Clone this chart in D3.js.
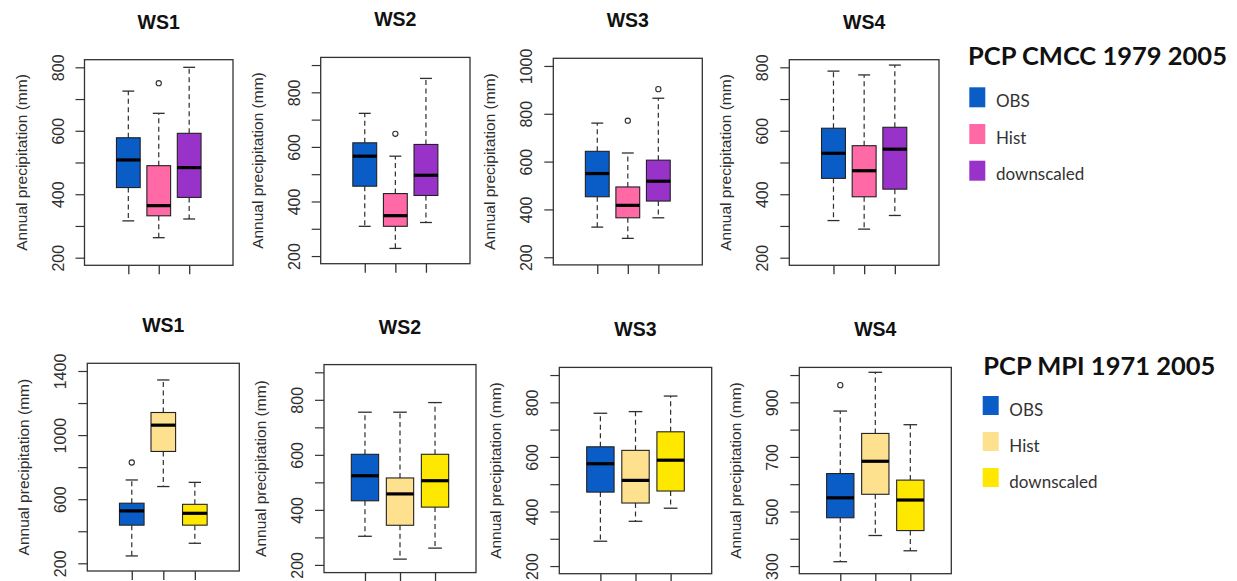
<!DOCTYPE html>
<html>
<head>
<meta charset="utf-8">
<script src="https://cdn.jsdelivr.net/npm/d3@7"></script>
<style>
  body { margin: 0; background: #fff; }
  svg { display: block; }
</style>
</head>
<body>
<svg id="chart" width="1237" height="581"></svg>
<script>
var stations = ["WS1", "WS2", "WS3", "WS4"];
var groups = ["OBS", "Hist", "downscaled"];

// CMCC 1979-2005, each entry: [lower whisker, Q1, median, Q3, upper whisker]
var cmccObs = [[316, 421, 508, 578, 725], [309, 456, 566, 615, 723], [326, 453, 550, 643, 761], [317, 450, 529, 608, 788]];
var cmccHist = [[263, 332, 364, 490, 655], [228, 309, 348, 429, 566], [279, 365, 417, 494, 636], [290, 392, 474, 553, 776]];
var cmccDown = [[322, 390, 484, 592, 800], [323, 422, 496, 609, 851], [365, 435, 518, 606, 865], [333, 416, 542, 611, 807]];
var cmccOutliers = [[[], [750], []], [[], [648], []], [[], [771], [903]], [[], [], []]];
var cmccLimits = [[200, 800], [200, 900], [200, 1000], [200, 800]];
var cmccTicks = [[200, 300, 400, 500, 600, 700, 800], [200, 300, 400, 500, 600, 700, 800, 900], [200, 400, 600, 800, 1000], [200, 300, 400, 500, 600, 700, 800]];
var cmccTickLabels = [[200, 400, 600, 800], [200, 400, 600, 800], [200, 400, 600, 800, 1000], [200, 400, 600, 800]];

// MPI 1971-2005
var mpiObs = [[246, 438, 527, 575, 720], [304, 433, 524, 602, 755], [291, 471, 575, 637, 760], [316, 477, 550, 639, 868]];
var mpiHist = [[679, 898, 1062, 1141, 1344], [221, 344, 458, 516, 755], [364, 431, 514, 624, 766], [412, 563, 684, 786, 1010]];
var mpiDown = [[325, 438, 512, 568, 705], [261, 410, 506, 602, 790], [412, 475, 588, 692, 823], [356, 430, 542, 615, 818]];
var mpiOutliers = [[[829], [], []], [[], [], []], [[], [], []], [[963], [], []]];
var mpiLimits = [[200, 1400], [200, 900], [200, 900], [300, 1000]];
var mpiTicks = [[200, 400, 600, 800, 1000, 1200, 1400], [200, 300, 400, 500, 600, 700, 800, 900], [200, 300, 400, 500, 600, 700, 800, 900], [300, 400, 500, 600, 700, 800, 900, 1000]];
var mpiTickLabels = [[200, 600, 1000, 1400], [200, 400, 600, 800], [200, 400, 600, 800], [300, 500, 700, 900]];

// colours
var cmccColors = ["#0a5cc6", "#ff69a5", "#9932c8"];
var mpiColors = ["#0a5cc6", "#fde18f", "#ffe800"];

// layout: plot frames [x, y, w, h] and the x padding of each frame
var topFrames = [[84.5, 59.7, 148.5, 205.6], [320.7, 57.4, 149.3, 206.3], [553.3, 58.3, 149, 206.6], [789.3, 59.7, 149.7, 205.6]];
var bottomFrames = [[87.3, 363.3, 152, 207.7], [324, 364.6, 152, 208], [559.3, 367.4, 152.4, 206.3], [799.3, 367.4, 152, 206.3]];
var topPad = [0.94, 0.94, 0.94, 0.94];
var bottomPad = [0.91, 0.67, 0.67, 0.67];

var svg = d3.select("#chart");
var plotFont = "'Liberation Sans', Arial, sans-serif";
var legendFont = "Lato, 'Open Sans', sans-serif";
var ink = "#2e2e2e";

function drawPanel(frame, pad, title, summaries, outliers, colors, limits, ticks, tickLabels) {
    var fx = frame[0], fy = frame[1], fw = frame[2], fh = frame[3];
    var span = limits[1] - limits[0];

    // R style 4% extension of the y range
    var y = d3.scaleLinear()
        .domain([limits[0] - 0.04 * span, limits[1] + 0.04 * span])
        .range([fy + fh, fy]);
    var x = d3.scaleLinear()
        .domain([0.5 - pad, 3.5 + pad])
        .range([fx, fx + fw]);

    var g = svg.append("g");
    var boxW = x(1.78) - x(1);
    var capW = boxW / 2;

    summaries.forEach(function (s, i) {
        var cx = x(i + 1);
        // whiskers
        g.append("line").attr("x1", cx).attr("x2", cx).attr("y1", y(s[3])).attr("y2", y(s[4]))
            .attr("stroke", ink).attr("stroke-width", 1.2).attr("stroke-dasharray", "5,3.5");
        g.append("line").attr("x1", cx).attr("x2", cx).attr("y1", y(s[1])).attr("y2", y(s[0]))
            .attr("stroke", ink).attr("stroke-width", 1.2).attr("stroke-dasharray", "5,3.5");
        // staples
        [s[0], s[4]].forEach(function (v) {
            g.append("line").attr("x1", cx - capW / 2).attr("x2", cx + capW / 2)
                .attr("y1", y(v)).attr("y2", y(v))
                .attr("stroke", ink).attr("stroke-width", 1.3);
        });
        // box
        g.append("rect")
            .attr("x", cx - boxW / 2).attr("width", boxW)
            .attr("y", y(s[3])).attr("height", y(s[1]) - y(s[3]))
            .attr("fill", colors[i]).attr("stroke", "#222").attr("stroke-width", 1.1);
        // median
        g.append("line").attr("x1", cx - boxW / 2).attr("x2", cx + boxW / 2)
            .attr("y1", y(s[2])).attr("y2", y(s[2]))
            .attr("stroke", "#000").attr("stroke-width", 3.2);
        // outliers
        outliers[i].forEach(function (v) {
            g.append("circle").attr("cx", cx).attr("cy", y(v)).attr("r", 2.6)
                .attr("fill", "none").attr("stroke", ink).attr("stroke-width", 1.1);
        });
    });

    // frame
    g.append("rect").attr("x", fx).attr("y", fy).attr("width", fw).attr("height", fh)
        .attr("fill", "none").attr("stroke", "#333").attr("stroke-width", 1.3);

    // y axis, labels rotated like R's las = 0
    var yAxis = d3.axisLeft(y)
        .tickValues(ticks)
        .tickSize(9)
        .tickFormat(function (d) { return tickLabels.indexOf(d) >= 0 ? d : ""; });
    var ya = g.append("g").attr("transform", "translate(" + fx + ",0)").call(yAxis);
    ya.select(".domain").remove();
    ya.selectAll(".tick line").attr("stroke", "#333").attr("stroke-width", 1.2);
    ya.selectAll(".tick text")
        .attr("transform", "rotate(-90)")
        .attr("x", 0).attr("y", -21).attr("dy", 0)
        .attr("text-anchor", "middle")
        .attr("fill", ink)
        .style("font-family", plotFont).style("font-size", "16px");

    // x axis: bare tick marks under each box
    var xAxis = d3.axisBottom(x).tickValues([1, 2, 3]).tickSize(9).tickFormat("");
    var xa = g.append("g").attr("transform", "translate(0," + (fy + fh) + ")").call(xAxis);
    xa.select(".domain").remove();
    xa.selectAll(".tick line").attr("stroke", "#333").attr("stroke-width", 1.3);

    // axis title
    g.append("text")
        .attr("transform", "translate(" + (fx - 58) + "," + (fy + fh / 2) + ") rotate(-90)")
        .attr("text-anchor", "middle")
        .attr("fill", ink)
        .style("font-family", plotFont).style("font-size", "15.5px")
        .text("Annual precipitation (mm)");

    // panel title
    g.append("text")
        .attr("x", fx + fw / 2).attr("y", fy - 31)
        .attr("text-anchor", "middle")
        .attr("fill", "#111")
        .style("font-family", plotFont).style("font-size", "19.5px").style("font-weight", "bold")
        .text(title);
}

function drawLegend(tx, ty, title, colors, sx, sy0, sw, sh, step, lx, ly0) {
    var lg = svg.append("g");
    lg.append("text").attr("x", tx).attr("y", ty)
        .attr("fill", "#111")
        .style("font-family", legendFont).style("font-size", "25.5px").style("font-weight", "bold")
        .text(title);
    groups.forEach(function (name, i) {
        lg.append("rect").attr("x", sx).attr("y", sy0 + i * step).attr("width", sw).attr("height", sh)
            .attr("fill", colors[i]);
        lg.append("text").attr("x", lx).attr("y", ly0 + i * step)
            .attr("fill", "#333")
            .style("font-family", legendFont).style("font-size", "17px")
            .text(name);
    });
}

var cmccSeries = [cmccObs, cmccHist, cmccDown];
var mpiSeries = [mpiObs, mpiHist, mpiDown];

stations.forEach(function (st, k) {
    drawPanel(topFrames[k], topPad[k], st,
        cmccSeries.map(function (s) { return s[k]; }),
        cmccOutliers[k], cmccColors, cmccLimits[k], cmccTicks[k], cmccTickLabels[k]);
    drawPanel(bottomFrames[k], bottomPad[k], st,
        mpiSeries.map(function (s) { return s[k]; }),
        mpiOutliers[k], mpiColors, mpiLimits[k], mpiTicks[k], mpiTickLabels[k]);
});

drawLegend(968, 65, "PCP CMCC 1979 2005", cmccColors, 969.3, 87.3, 16, 20, 36.7, 996, 107);
drawLegend(983.3, 375, "PCP MPI 1971 2005", mpiColors, 982.7, 396, 16, 19, 36, 1009.3, 416);
</script>
</body>
</html>
